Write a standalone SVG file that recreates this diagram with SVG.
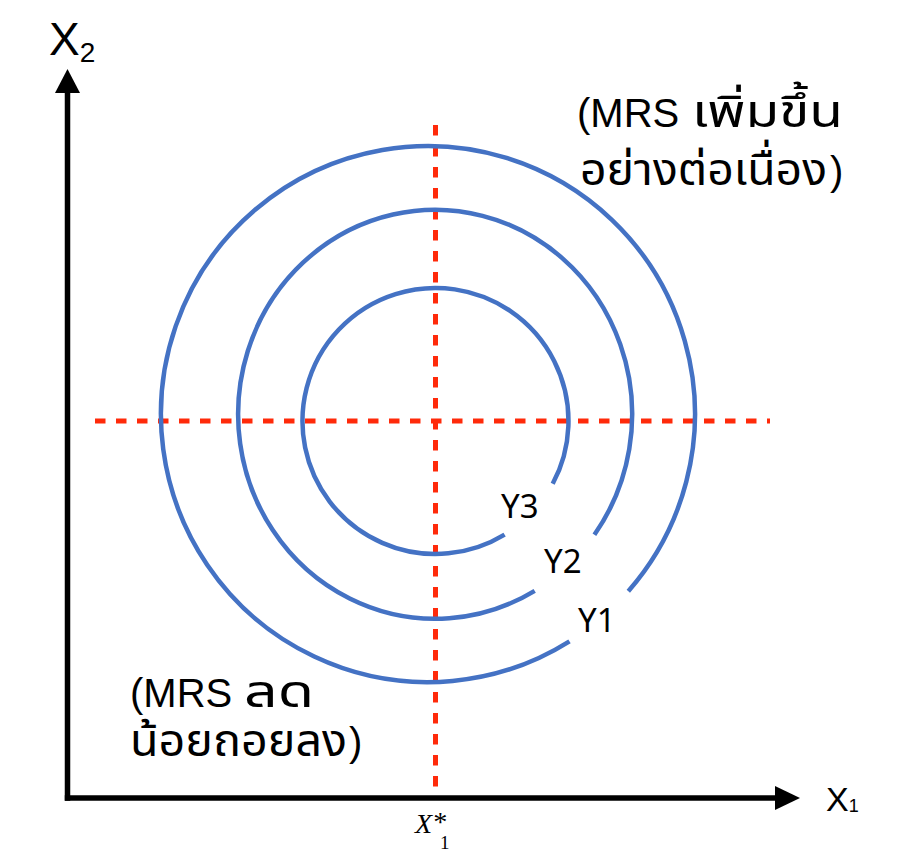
<svg xmlns="http://www.w3.org/2000/svg" width="898" height="852" viewBox="0 0 898 852">
<style>
.curve{fill:none;stroke:#4472C4;stroke-width:4.5}
.guide{fill:none;stroke:#FF2A0A;stroke-width:5;stroke-dasharray:10.5 10.5}
.axis{fill:none;stroke:#000;stroke-width:5.5}
.lbl{font-family:"Noto Sans","Open Sans",sans-serif;font-size:33px;fill:#000}
.note{font-family:"Liberation Sans","Noto Sans Thai","Noto Sans",sans-serif;font-size:40px;fill:#000}
.th{font-size:45px}
.ax{font-family:"Liberation Sans",Arial,sans-serif;fill:#000}
</style>
<rect width="898" height="852" fill="#fff"/>
<g id="connectors">
<line class="guide" x1="435.5" y1="125" x2="435.5" y2="796"/>
<line class="guide" x1="95" y1="421" x2="770" y2="421"/>
<line class="axis" x1="67.5" y1="91" x2="67.5" y2="800.7"/>
<line class="axis" x1="64.8" y1="798" x2="777" y2="798"/>
<polygon points="67.5,69 55,93 80,93" fill="#000"/>
<polygon points="800,798 775,786 775,810" fill="#000"/>
</g>
<g id="curve-y1"><path class="curve" d="M 628.3 591.2 A 267 268 0 1 0 569.5 641.3"/></g>
<g id="curve-y2"><path class="curve" d="M 594.4 534.7 A 197 204.5 0 1 0 534.7 590.8"/></g>
<g id="curve-y3"><path class="curve" d="M 552.7 483.8 A 133 133 0 1 0 504.6 534.6"/></g>
<g id="label-y3"><text class="lbl" x="501" y="518">Y3</text></g>
<g id="label-y2"><text class="lbl" x="544" y="573">Y2</text></g>
<g id="label-y1"><text class="lbl" x="578" y="631.5">Y1</text></g>
<g id="note-top">
<text class="note" x="577" y="127">(MRS <tspan class="th" x="692" textLength="151" lengthAdjust="spacingAndGlyphs">เพิ่มขึ้น</tspan></text>
<text class="note" x="580" y="185"><tspan class="th" textLength="247" lengthAdjust="spacingAndGlyphs">อย่างต่อเนื่อง</tspan><tspan x="830">)</tspan></text>
</g>
<g id="note-bottom">
<text class="note" x="130" y="707">(MRS <tspan class="th" x="244" textLength="70" lengthAdjust="spacingAndGlyphs">ลด</tspan></text>
<text class="note" x="130" y="756"><tspan class="th" textLength="217" lengthAdjust="spacingAndGlyphs">น้อยถอยลง</tspan><tspan x="349">)</tspan></text>
</g>
<g id="axis-x2"><text class="ax" x="49" y="55" font-size="46">X<tspan font-size="28" dy="7">2</tspan></text></g>
<g id="axis-x1"><text class="ax" x="826" y="811" font-size="34">X<tspan font-size="18" dy="1">1</tspan></text></g>
<g id="axis-xstar"><text x="415" y="833" font-family="'Liberation Serif',serif" font-style="italic" font-size="28">X<tspan font-size="28" dy="-2">*</tspan><tspan x="440" y="849" font-size="19" font-style="normal">1</tspan></text></g>
</svg>
